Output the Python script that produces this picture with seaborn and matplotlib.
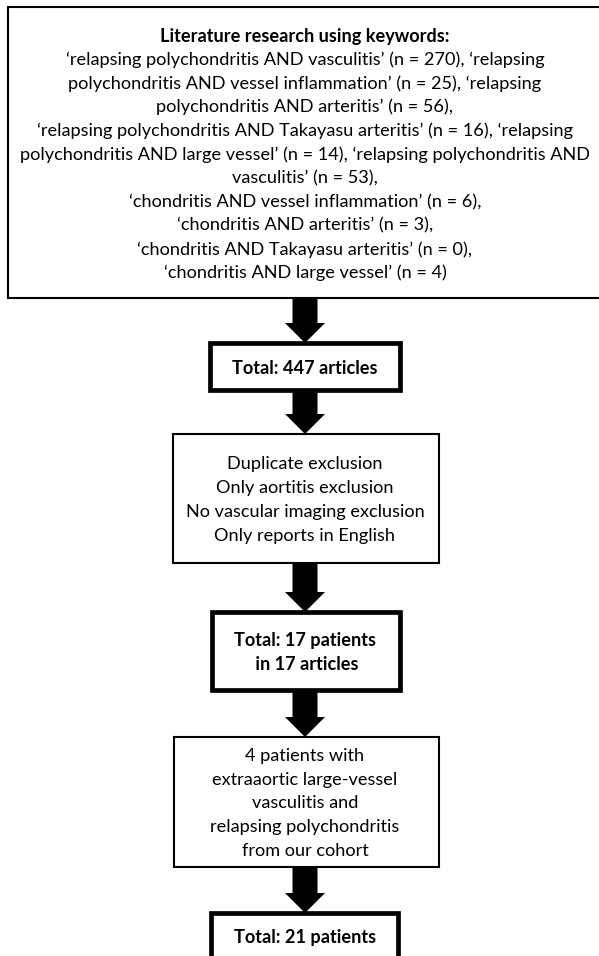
import matplotlib
matplotlib.use("Agg")
import matplotlib.pyplot as plt
import seaborn as sns
from matplotlib.patches import Rectangle, FancyArrow

# flowchart content
search_title = "Literature research using keywords:"
search_lines = [
    "\u2018relapsing polychondritis AND vasculitis\u2019 (n = 270), \u2018relapsing",
    "polychondritis AND vessel inflammation\u2019 (n = 25), \u2018relapsing",
    "polychondritis AND arteritis\u2019 (n = 56),",
    "\u2018relapsing polychondritis AND Takayasu arteritis\u2019 (n = 16), \u2018relapsing",
    "polychondritis AND large vessel\u2019 (n = 14), \u2018relapsing polychondritis AND",
    "vasculitis\u2019 (n = 53),",
    "\u2018chondritis AND vessel inflammation\u2019 (n = 6),",
    "\u2018chondritis AND arteritis\u2019 (n = 3),",
    "\u2018chondritis AND Takayasu arteritis\u2019 (n = 0),",
    "\u2018chondritis AND large vessel\u2019 (n = 4)",
]
step_texts = [
    ["Total: 447 articles"],
    ["Duplicate exclusion", "Only aortitis exclusion",
     "No vascular imaging exclusion", "Only reports in English"],
    ["Total: 17 patients", " in 17 articles"],
    ["4 patients with", "extraaortic large-vessel", "vasculitis and",
     "relapsing polychondritis", "from our cohort"],
    ["Total: 21 patients"],
]
step_bold = [True, False, True, False, True]

# layout (pixel units, y grows downward)
W, H = 599, 956
cx = 305
line_gap = 23.7
font_size = 13.1
top_box = (8, 7, 615, 298)
step_boxes = [(210, 343, 400, 390), (173, 434, 439, 563), (212, 612, 400, 690),
              (174, 737, 439, 867), (211, 913, 398, 990)]

sns.set_theme(style="white")
plt.rcParams['font.family'] = ['Lato', 'DejaVu Sans']

fig = plt.figure(figsize=(W / 100, H / 100), dpi=100)
ax = fig.add_axes([0, 0, 1, 1])
ax.set_xlim(0, W)
ax.set_ylim(H, 0)
ax.axis('off')


def draw_box(box, thick):
    x0, y0, x1, y1 = box
    ax.add_patch(Rectangle((x0, y0), x1 - x0, y1 - y0, facecolor='white',
                           edgecolor='black', linewidth=3.4 if thick else 1.5,
                           zorder=2))


def draw_lines(lines, yc, bold):
    n = len(lines)
    for i, s in enumerate(lines):
        y = yc + (i - (n - 1) / 2) * line_gap
        ax.text(cx, y, s, ha='center', va='center', fontsize=font_size,
                fontweight='bold' if bold else 'normal', color='black',
                zorder=3)


# top search box
draw_box(top_box, False)
draw_lines([search_title] + search_lines, (top_box[1] + top_box[3]) / 2 + 2, False)
ax.texts[0].set_fontweight('bold')

prev_bottom = top_box[3]
for box, lines, bold in zip(step_boxes, step_texts, step_bold):
    ax.add_patch(FancyArrow(cx, prev_bottom, 0, box[1] - prev_bottom, width=25,
                            head_width=40, head_length=20,
                            length_includes_head=True, color='black',
                            linewidth=0, zorder=1))
    draw_box(box, bold)
    yc = (box[1] + box[3]) / 2 + 1.5 if box[3] <= H else box[1] + 24
    draw_lines(lines, yc, bold)
    prev_bottom = box[3]

fig.savefig('out.png', dpi=100, facecolor='white')
